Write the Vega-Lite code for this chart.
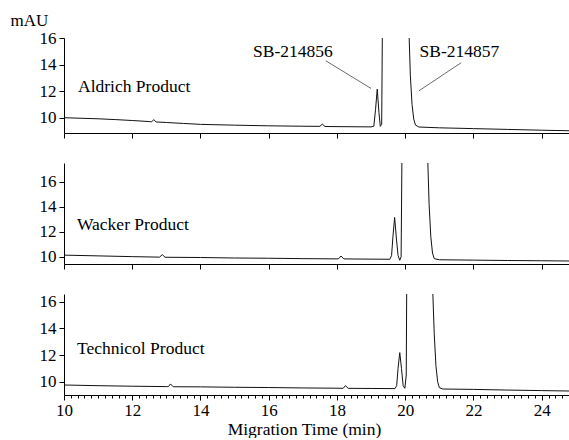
{
  "$schema": "https://vega.github.io/schema/vega-lite/v6.json",
  "padding": {"left": 10, "top": 11, "right": 0, "bottom": 0},
  "background": "white",
  "config": {
    "font": "Liberation Serif",
    "view": {"stroke": null},
    "axis": {"domainColor": "#000", "tickColor": "#000", "labelColor": "#000", "titleColor": "#000", "grid": false, "labelFont": "Liberation Serif", "titleFont": "Liberation Serif", "titleFontWeight": "normal", "domainWidth": 1, "tickWidth": 1}
  },
  "datasets": {
    "A": [
      {"t":10,"v":10.0},{"t":10.5,"v":9.96},{"t":11,"v":9.92},{"t":11.5,"v":9.86},{"t":12,"v":9.79},{"t":12.5,"v":9.71},{"t":12.57,"v":9.69},{"t":12.63,"v":9.86},{"t":12.7,"v":9.68},{"t":13,"v":9.64},{"t":13.5,"v":9.57},{"t":14,"v":9.5},{"t":15,"v":9.44},{"t":16,"v":9.39},{"t":17,"v":9.36},{"t":17.5,"v":9.35},{"t":17.57,"v":9.52},{"t":17.65,"v":9.34},{"t":18,"v":9.33},{"t":18.5,"v":9.32},{"t":19.0,"v":9.31},{"t":19.08,"v":9.36},{"t":19.13,"v":10.6},{"t":19.18,"v":12.15},{"t":19.23,"v":10.4},{"t":19.27,"v":9.35},{"t":19.31,"v":9.5},{"t":19.34,"v":20},{"t":19.36,"v":40},{"t":20.08,"v":40},{"t":20.11,"v":16.5},{"t":20.15,"v":13.2},{"t":20.2,"v":11.0},{"t":20.25,"v":9.9},{"t":20.3,"v":9.45},{"t":20.4,"v":9.3},{"t":21,"v":9.24},{"t":22,"v":9.18},{"t":23,"v":9.12},{"t":24,"v":9.06},{"t":24.8,"v":9.02}
    ],
    "B": [
      {"t":10,"v":10.13},{"t":11,"v":10.07},{"t":12,"v":10.01},{"t":12.8,"v":9.97},{"t":12.88,"v":10.17},{"t":12.96,"v":9.96},{"t":14,"v":9.94},{"t":15,"v":9.9},{"t":16,"v":9.88},{"t":17,"v":9.85},{"t":18,"v":9.83},{"t":18.05,"v":9.85},{"t":18.12,"v":10.06},{"t":18.2,"v":9.83},{"t":18.5,"v":9.82},{"t":19,"v":9.81},{"t":19.55,"v":9.8},{"t":19.6,"v":10.1},{"t":19.64,"v":11.6},{"t":19.69,"v":13.15},{"t":19.74,"v":11.5},{"t":19.79,"v":10.1},{"t":19.84,"v":9.72},{"t":19.88,"v":10.0},{"t":19.91,"v":20},{"t":19.93,"v":40},{"t":20.64,"v":40},{"t":20.66,"v":17.8},{"t":20.7,"v":14.2},{"t":20.75,"v":11.6},{"t":20.8,"v":10.3},{"t":20.85,"v":9.85},{"t":21,"v":9.76},{"t":22,"v":9.73},{"t":23,"v":9.7},{"t":24,"v":9.68},{"t":24.8,"v":9.66}
    ],
    "C": [
      {"t":10,"v":9.75},{"t":11,"v":9.7},{"t":12,"v":9.66},{"t":13,"v":9.63},{"t":13.06,"v":9.63},{"t":13.12,"v":9.83},{"t":13.2,"v":9.62},{"t":14,"v":9.61},{"t":15,"v":9.58},{"t":16,"v":9.56},{"t":17,"v":9.53},{"t":18,"v":9.51},{"t":18.18,"v":9.5},{"t":18.25,"v":9.7},{"t":18.33,"v":9.5},{"t":19,"v":9.49},{"t":19.7,"v":9.48},{"t":19.75,"v":9.7},{"t":19.79,"v":11.0},{"t":19.84,"v":12.18},{"t":19.89,"v":11.0},{"t":19.94,"v":9.7},{"t":19.99,"v":9.5},{"t":20.03,"v":10.5},{"t":20.05,"v":20},{"t":20.07,"v":40},{"t":20.79,"v":40},{"t":20.81,"v":16.6},{"t":20.85,"v":13.6},{"t":20.9,"v":11.2},{"t":20.95,"v":10.0},{"t":21.0,"v":9.55},{"t":21.1,"v":9.45},{"t":22,"v":9.42},{"t":23,"v":9.37},{"t":24,"v":9.33},{"t":24.8,"v":9.3}
    ],
    "labA": [{"t":10.41,"v":11.92,"label":"Aldrich Product"}],
    "labB": [{"t":10.38,"v":12.16,"label":"Wacker Product"}],
    "labC": [{"t":10.38,"v":12.08,"label":"Technicol Product"}],
    "ann": [{"t":15.54,"v":14.55,"label":"SB-214856"},{"t":20.42,"v":14.55,"label":"SB-214857"}],
    "leaders": [{"t":17.67,"v":14.29,"t2":19.0,"v2":12.2},{"t":21.64,"v":14.14,"t2":20.4,"v2":12.02}],
    "majorTicks": [{"t":10},{"t":12},{"t":14},{"t":16},{"t":18},{"t":20},{"t":22},{"t":24}],
    "one": [{}]
  },
  "spacing": 30,
  "bounds": "flush",
  "resolve": {"scale": {"x": "independent", "y": "independent"}, "axis": {"x": "independent", "y": "independent"}},
  "vconcat": [
    {
      "width": 505, "height": 95,
      "encoding": {
        "x": {"field": "t", "type": "quantitative", "scale": {"domain": [10, 24.8], "nice": false, "zero": false},
              "axis": {"values": [10,12,14,16,18,20,22,24], "labels": false, "tickSize": 5, "title": null}},
        "y": {"field": "v", "type": "quantitative", "scale": {"domain": [8.85, 16], "nice": false, "zero": false},
              "axis": {"values": [10,12,14,16], "tickSize": 5, "labelFontSize": 17, "labelPadding": 3, "title": "mAU", "titleAngle": 0, "titleX": -54, "titleY": -12.3, "titleAlign": "left", "titleBaseline": "alphabetic", "titleFontSize": 17}}
      },
      "layer": [
        {"data": {"name": "A"}, "mark": {"type": "line", "color": "#111", "strokeWidth": 1, "clip": true}},
        {"data": {"name": "one"}, "mark": {"type": "rule", "color": "#000", "strokeWidth": 1}, "encoding": {"x": {"datum": 10}, "x2": {"datum": 24.8}, "y": {"datum": 8.85}}},
        {"data": {"name": "majorTicks"}, "mark": {"type": "rule", "color": "#000", "strokeWidth": 1, "y2Offset": 5}, "encoding": {"y": {"datum": 8.85}, "y2": {"datum": 8.85}}},
        {"data": {"name": "labA"}, "mark": {"type": "text", "align": "left", "baseline": "alphabetic", "fontSize": 17.5, "color": "#000"}, "encoding": {"text": {"field": "label"}}},
        {"data": {"name": "ann"}, "mark": {"type": "text", "align": "left", "baseline": "alphabetic", "fontSize": 17.5, "color": "#000"}, "encoding": {"text": {"field": "label"}}},
        {"data": {"name": "leaders"}, "mark": {"type": "rule", "color": "#444", "strokeWidth": 0.8}, "encoding": {"x2": {"field": "t2"}, "y2": {"field": "v2"}}}
      ]
    },
    {
      "width": 505, "height": 101,
      "encoding": {
        "x": {"field": "t", "type": "quantitative", "scale": {"domain": [10, 24.8], "nice": false, "zero": false},
              "axis": {"values": [10,12,14,16,18,20,22,24], "labels": false, "tickSize": 5, "title": null}},
        "y": {"field": "v", "type": "quantitative", "scale": {"domain": [9.42, 17.5], "nice": false, "zero": false},
              "axis": {"values": [10,12,14,16], "tickSize": 5, "labelFontSize": 17, "labelPadding": 3, "title": null}}
      },
      "layer": [
        {"data": {"name": "B"}, "mark": {"type": "line", "color": "#111", "strokeWidth": 1, "clip": true}},
        {"data": {"name": "one"}, "mark": {"type": "rule", "color": "#000", "strokeWidth": 1}, "encoding": {"x": {"datum": 10}, "x2": {"datum": 24.8}, "y": {"datum": 9.42}}},
        {"data": {"name": "majorTicks"}, "mark": {"type": "rule", "color": "#000", "strokeWidth": 1, "y2Offset": 5}, "encoding": {"y": {"datum": 9.42}, "y2": {"datum": 9.42}}},
        {"data": {"name": "labB"}, "mark": {"type": "text", "align": "left", "baseline": "alphabetic", "fontSize": 17.5, "color": "#000"}, "encoding": {"text": {"field": "label"}}}
      ]
    },
    {
      "width": 505, "height": 101,
      "encoding": {
        "x": {"field": "t", "type": "quantitative", "scale": {"domain": [10, 24.8], "nice": false, "zero": false},
              "axis": {"values": [10,10.2,10.4,10.6,10.8,11,11.2,11.4,11.6,11.8,12,12.2,12.4,12.6,12.8,13,13.2,13.4,13.6,13.8,14,14.2,14.4,14.6,14.8,15,15.2,15.4,15.6,15.8,16,16.2,16.4,16.6,16.8,17,17.2,17.4,17.6,17.8,18,18.2,18.4,18.6,18.8,19,19.2,19.4,19.6,19.8,20,20.2,20.4,20.6,20.8,21,21.2,21.4,21.6,21.8,22,22.2,22.4,22.6,22.8,23,23.2,23.4,23.6,23.8,24,24.2,24.4,24.6,24.8],
                       "tickSize": {"condition": {"test": "abs(datum.value - round(datum.value/2)*2) < 0.01", "value": 5}, "value": 3},
                       "labelExpr": "abs(datum.value - round(datum.value/2)*2) < 0.01 ? format(datum.value, 'd') : ''",
                       "labelOverlap": false, "labelFlush": false, "labelFontSize": 17, "labelPadding": 2,
                       "title": "Migration Time (min)", "titleFontSize": 17.5, "titleX": 240, "titleY": 39.5, "titleAlign": "center", "titleBaseline": "alphabetic"}},
        "y": {"field": "v", "type": "quantitative", "scale": {"domain": [9.0, 16.58], "nice": false, "zero": false},
              "axis": {"values": [10,12,14,16], "tickSize": 5, "labelFontSize": 17, "labelPadding": 3, "title": null}}
      },
      "layer": [
        {"data": {"name": "C"}, "mark": {"type": "line", "color": "#111", "strokeWidth": 1, "clip": true}},
        {"data": {"name": "labC"}, "mark": {"type": "text", "align": "left", "baseline": "alphabetic", "fontSize": 17.5, "color": "#000"}, "encoding": {"text": {"field": "label"}}}
      ]
    }
  ]
}
